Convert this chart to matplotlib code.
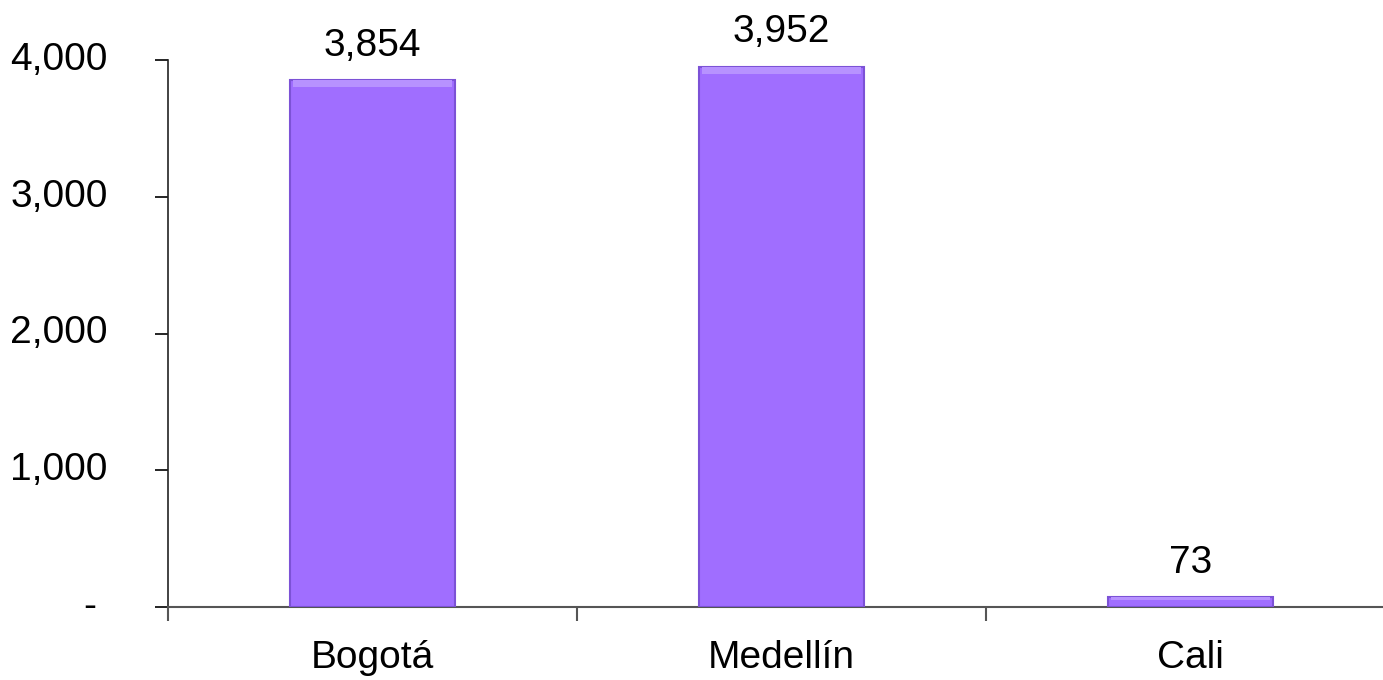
import matplotlib.pyplot as plt
import matplotlib.transforms as mtransforms

plt.rcParams['font.family'] = ['Liberation Sans', 'DejaVu Sans']

cities = ['Bogotá', 'Medellín', 'Cali']
values = [3854, 3952, 73]
yticks = [0, 1000, 2000, 3000, 4000]
ytick_labels = ['- ', '1,000', '2,000', '3,000', '4,000']

fig = plt.figure(figsize=(13.83, 6.8), dpi=100)
W, H = 1383, 680
# axes runs a bit past the right edge like in the original
ax = fig.add_axes([168 / W, (H - 607) / H, 1227 / W, 547 / H])

x = range(len(cities))
bars = ax.bar(x, values, width=0.405, color='#A06EFF',
              edgecolor='#7C52D6', linewidth=1.5, zorder=3)

# light band on top of each bar for the bevel look
for b in bars:
    h = b.get_height()
    band = min(h * 0.3, 55)
    w = b.get_width()
    ax.bar(b.get_x() + w / 2, band, bottom=h - band, width=w * 0.96,
           color='#B792FF', linewidth=0, zorder=3.5)

for xi, v in zip(x, values):
    ax.annotate(f'{v:,}', (xi, v), xytext=(0, 17.5), textcoords='offset points',
                ha='center', va='baseline', fontsize=28, clip_on=False)

ax.set_xlim(-0.5, 2.5)
ax.set_ylim(0, 4000)
ax.set_yticks(yticks)
ax.set_yticklabels(ytick_labels)
ax.set_xticks(range(len(cities)))
ax.set_xticklabels(cities)
# category boundary ticks
ax.set_xticks([0.5, 1.5, -0.5], minor=True)
ax.tick_params(axis='x', which='major', length=0, pad=23.5, labelsize=28)
ax.tick_params(axis='x', which='minor', length=10, width=1.5, color='#555555', direction='out')
ax.tick_params(axis='y', length=9.5, width=1.2, direction='out', pad=34, labelsize=28)

# y labels sit slightly above their ticks in the original
up = mtransforms.ScaledTranslation(0, 4 / 100, fig.dpi_scale_trans)
for lab in ax.get_yticklabels():
    lab.set_transform(lab.get_transform() + up)

for s in ['top', 'right']:
    ax.spines[s].set_visible(False)
ax.spines['left'].set_color('#222222')
ax.spines['left'].set_linewidth(1.2)
ax.spines['bottom'].set_color('#555555')
ax.spines['bottom'].set_linewidth(1.5)

fig.savefig('out.png', dpi=100)
